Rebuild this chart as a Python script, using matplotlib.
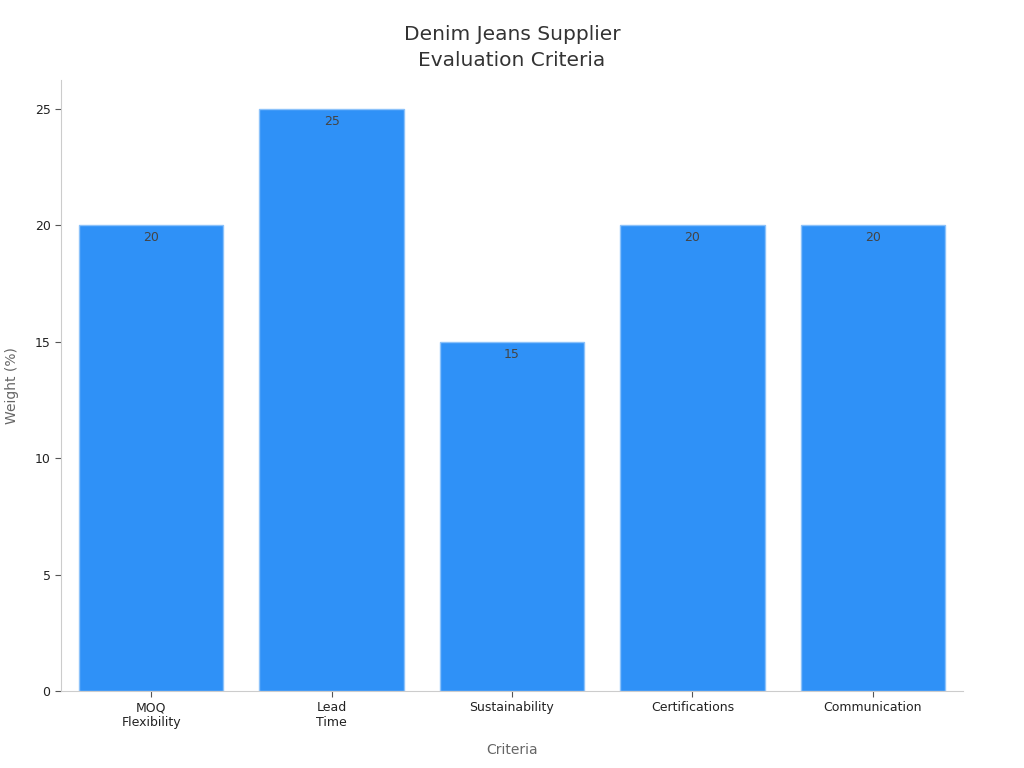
import matplotlib
matplotlib.use("Agg")
import matplotlib.pyplot as plt

categories = ["MOQ\nFlexibility", "Lead\nTime", "Sustainability", "Certifications", "Communication"]
weights = [20, 25, 15, 20, 20]

fig = plt.figure(figsize=(10.24, 7.68), dpi=100)
ax = fig.add_axes([0.0596, 0.1003, 0.8808, 0.7957])

bars = ax.bar(range(len(categories)), weights, width=0.8,
              color="#2F91F7", edgecolor="#8CC2FA", linewidth=1)
for b, v in zip(bars, weights):
    ax.text(b.get_x() + b.get_width() / 2, v - 0.25, str(v),
            ha="center", va="top", fontsize=9, color="#444444")

ax.set_xlim(-0.5, len(categories) - 0.5)
ax.set_ylim(0, 26.25)
ax.set_xticks(range(len(categories)))
ax.set_xticklabels(categories, fontsize=9, color="#222222")
ax.set_yticks([0, 5, 10, 15, 20, 25])
ax.tick_params(axis="y", labelsize=9, labelcolor="#222222", color="#555555", length=4)
ax.tick_params(axis="x", color="#555555", length=4)

ax.set_xlabel("Criteria", fontsize=10, color="#666666", labelpad=10)
ax.set_ylabel("Weight (%)", fontsize=10, color="#666666", labelpad=11)
ax.set_title("Denim Jeans Supplier\nEvaluation Criteria", fontsize=14.5,
             color="#333333", pad=10, linespacing=1.45)

for s in ["top", "right"]:
    ax.spines[s].set_visible(False)
for s in ["left", "bottom"]:
    ax.spines[s].set_color("#CCCCCC")

fig.savefig("out.png", dpi=100)
